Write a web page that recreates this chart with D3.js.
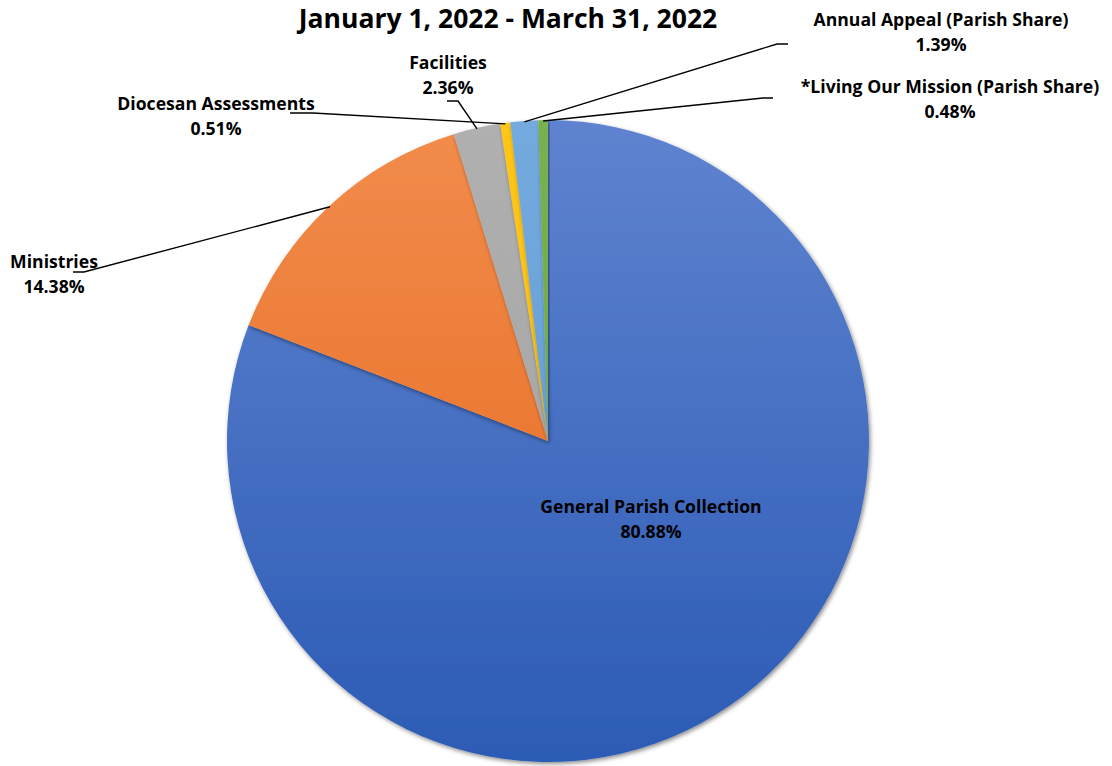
<!DOCTYPE html>
<html>
<head>
<meta charset="utf-8">
<script src="https://cdn.jsdelivr.net/npm/d3@7"></script>
<style>
  html, body { margin: 0; padding: 0; background: #fff; }
  svg { display: block; }
  text { font-family: "Open Sans", Lato, sans-serif; font-weight: 700; fill: #000; }
</style>
</head>
<body>
<svg id="chart" width="1112" height="766"></svg>
<script>
// ---- data ----
const title = "January 1, 2022 - March 31, 2022";
const categories = [
  "General Parish Collection",
  "Ministries",
  "Facilities",
  "Diocesan Assessments",
  "Annual Appeal (Parish Share)",
  "*Living Our Mission (Parish Share)"
];
const values = [80.88, 14.38, 2.36, 0.51, 1.39, 0.48];
const valueLabels = ["80.88%", "14.38%", "2.36%", "0.51%", "1.39%", "0.48%"];

// ---- styling / layout ----
const colorsTop = ["#5f83d0", "#f28c4c", "#b0b0b0", "#ffc61a", "#74aade", "#78b24f"];
const colorsBot = ["#2c5bb5", "#e4661a", "#a0a0a0", "#f5b800", "#5a97d2", "#68a440"];
const W = 1112, H = 766;
const cx = 548, cy = 441, R = 321;

const labelLayout = [
  {x: 651, y: 513, inside: true},
  {x: 54, y: 268, lx0: 73, ly: 272, lx1: 84},
  {x: 448, y: 69, lx0: 447, ly: 101, lx1: 458},
  {x: 216, y: 110, lx0: 290, ly: 113, lx1: 313},
  {x: 941, y: 26, lx0: 788, ly: 44, lx1: 777},
  {x: 950, y: 93, lx0: 773, ly: 98, lx1: 763}
];

const svg = d3.select("#chart");
const defs = svg.append("defs");

const filt = defs.append("filter").attr("id", "shadow")
  .attr("x", "-10%").attr("y", "-10%").attr("width", "130%").attr("height", "130%");
filt.append("feDropShadow").attr("dx", 1.5).attr("dy", 2).attr("stdDeviation", 2)
  .attr("flood-color", "#000").attr("flood-opacity", 0.45);

categories.forEach((c, i) => {
  const g = defs.append("linearGradient").attr("id", "grad" + i)
    .attr("gradientUnits", "userSpaceOnUse")
    .attr("x1", 0).attr("y1", -R).attr("x2", 0).attr("y2", R);
  g.append("stop").attr("offset", "0%").attr("stop-color", colorsTop[i]);
  g.append("stop").attr("offset", "100%").attr("stop-color", colorsBot[i]);
});

const data = categories.map((c, i) => ({name: c, value: values[i], label: valueLabels[i], i}));
const pie = d3.pie().sort(null).value(d => d.value);
const arcs = pie(data);
const arc = d3.arc().innerRadius(0).outerRadius(R);

const g = svg.append("g").attr("transform", `translate(${cx},${cy})`);
g.selectAll("path.slice").data(arcs).enter().append("path")
  .attr("class", "slice")
  .attr("d", arc)
  .attr("fill", d => `url(#grad${d.data.i})`)
  .attr("filter", "url(#shadow)");

// title
svg.append("text").attr("x", 508).attr("y", 28).attr("text-anchor", "middle")
  .style("font-size", "26.5px").text(title);

// leader lines
arcs.forEach(a => {
  const L = labelLayout[a.data.i];
  if (L.inside) return;
  const mid = (a.startAngle + a.endAngle) / 2;
  const ex = cx + (R - 1) * Math.sin(mid);
  const ey = cy - (R - 1) * Math.cos(mid);
  svg.append("path")
    .attr("d", d3.line()([[L.lx0, L.ly], [L.lx1, L.ly], [ex, ey]]))
    .attr("fill", "none").attr("stroke", "#000").attr("stroke-width", 1.4);
});

// labels
arcs.forEach(a => {
  const L = labelLayout[a.data.i];
  const t = svg.append("text").attr("text-anchor", "middle").style("font-size", "17.6px");
  t.append("tspan").attr("x", L.x).attr("y", L.y).text(a.data.name);
  t.append("tspan").attr("x", L.x).attr("y", L.y + 25).text(a.data.label);
});
</script>
</body>
</html>
